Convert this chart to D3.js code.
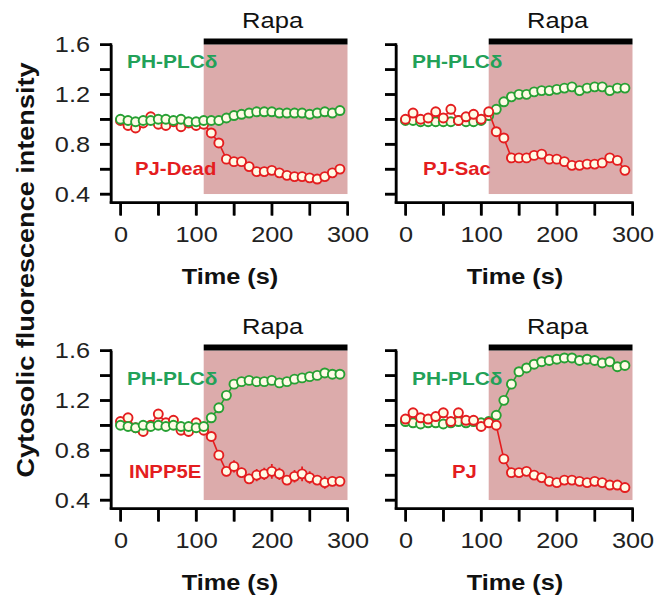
<!DOCTYPE html>
<html>
<head>
<meta charset="utf-8">
<script src="https://cdn.jsdelivr.net/npm/d3@7"></script>
<style>
  body { margin: 0; background: #fff; }
  svg { color: #000; }
  text { font-family: "Liberation Sans", Arial, sans-serif; }
</style>
</head>
<body>
<svg id="chart" width="662" height="601"></svg>
<script>
  //Time points (s)
  const time = [0,10,20,30,40,50,60,70,80,90,100,110,120,130,140,150,160,170,180,190,200,210,220,230,240,250,260,270,280,290];

  //PJ-Dead panel
  const phDead  = [1.00,0.99,0.98,0.99,0.99,1.00,1.00,0.99,1.00,0.98,0.98,0.99,0.99,0.99,1.01,1.03,1.04,1.05,1.06,1.06,1.06,1.05,1.05,1.05,1.05,1.04,1.05,1.06,1.05,1.07];
  const redDead = [0.99,0.95,0.93,0.97,1.02,0.96,0.95,0.98,0.94,0.97,0.95,0.96,0.89,0.81,0.68,0.66,0.66,0.62,0.58,0.58,0.59,0.57,0.55,0.54,0.54,0.53,0.52,0.54,0.57,0.60];
  const errDead = [0.01,0.02,0.01,0.02,0.02,0.01,0.02,0.03,0.02,0.01,0.02,0.03,0.01,0.01,0.01,0.01,0.01,0.01,0.01,0.01,0.01,0.01,0.01,0.01,0.01,0.01,0.01,0.01,0.01,0.01];

  //PJ-Sac panel
  const phSac  = [0.99,0.99,0.98,0.98,0.98,0.98,0.98,0.99,0.98,0.98,0.99,1.03,1.08,1.14,1.18,1.20,1.20,1.22,1.23,1.23,1.24,1.25,1.26,1.23,1.25,1.26,1.26,1.23,1.25,1.25];
  const redSac = [1.00,1.05,1.00,1.01,1.06,1.01,1.08,0.99,1.02,1.04,1.00,1.06,0.90,0.85,0.69,0.69,0.69,0.71,0.72,0.68,0.68,0.66,0.63,0.63,0.64,0.64,0.65,0.69,0.67,0.59];

  //INPP5E panel
  const phInp  = [1.00,0.99,0.98,1.00,0.99,1.00,0.99,1.00,0.99,0.99,0.98,0.99,1.06,1.14,1.24,1.33,1.35,1.36,1.35,1.35,1.36,1.34,1.35,1.37,1.38,1.39,1.40,1.42,1.41,1.41];
  const redInp = [1.03,1.06,0.98,0.95,1.00,1.09,1.02,1.04,0.96,0.95,1.02,0.96,0.91,0.76,0.63,0.67,0.62,0.57,0.60,0.61,0.63,0.61,0.56,0.59,0.61,0.58,0.56,0.54,0.55,0.55];
  const errInp = [0.02,0.02,0.02,0.02,0.02,0.03,0.02,0.02,0.02,0.02,0.02,0.02,0.02,0.03,0.04,0.05,0.04,0.04,0.05,0.05,0.06,0.05,0.04,0.05,0.06,0.05,0.04,0.05,0.04,0.03];

  //PJ panel
  const phPJ   = [1.03,1.02,1.01,1.02,1.02,1.01,1.02,1.03,1.02,1.03,1.02,1.03,1.08,1.20,1.33,1.43,1.46,1.49,1.51,1.52,1.53,1.54,1.54,1.52,1.53,1.52,1.50,1.51,1.47,1.48];
  const errPhPJ= [0.01,0.01,0.01,0.01,0.01,0.01,0.01,0.01,0.01,0.01,0.01,0.01,0.02,0.02,0.03,0.03,0.03,0.03,0.03,0.03,0.03,0.03,0.03,0.03,0.03,0.03,0.03,0.03,0.03,0.03];
  const redPJ  = [1.05,1.10,1.06,1.05,1.07,1.10,1.03,1.10,1.04,1.04,0.99,1.02,1.00,0.73,0.62,0.62,0.63,0.60,0.58,0.55,0.54,0.56,0.56,0.55,0.54,0.55,0.54,0.52,0.52,0.50];

  //Ticks and labels
  const yTicks = [0.4,0.6,0.8,1.0,1.2,1.4,1.6];
  const yTickLabels = ["0.4","","0.8","","1.2","","1.6"];
  const xTicks = [0,50,100,150,200,250,300];
  const xTickLabels = ["0","","100","","200","","300"];
  const rapaWindow = [110, 300];
  const greenLabel = "PH-PLCδ";
  const redLabels = ["PJ-Dead","PJ-Sac","INPP5E","PJ"];

  //Colours
  const green = "#27a033";
  const greenText = "#22a158";
  const red = "#e41d1f";
  const fillCircle = "#fffbe6";
  const shade = "#dcabab";
  const ink = "#111111";

  //Panels (axis corner position and label offsets)
  let panels = [
    {ax:111, ay:202.5, ph:phDead, red:redDead, redErr:errDead, phErr:null, label:redLabels[0], redFirst:true,  yLab:true,  phPos:[16,-134.5], redPos:[24,-27.5]},
    {ax:396, ay:202.5, ph:phSac,  red:redSac,  redErr:null,    phErr:null, label:redLabels[1], redFirst:false, yLab:false, phPos:[16,-134.5], redPos:[27,-27.5]},
    {ax:111, ay:508.5, ph:phInp,  red:redInp,  redErr:errInp,  phErr:null, label:redLabels[2], redFirst:true,  yLab:true,  phPos:[16,-123.5], redPos:[18,-30.5]},
    {ax:396, ay:508.5, ph:phPJ,   red:redPJ,   redErr:null,    phErr:errPhPJ, label:redLabels[3], redFirst:false, yLab:false, phPos:[16,-123.5], redPos:[56,-30.5]}
  ];

  let svg = d3.select("#chart");

  //Stretch text horizontally to match the wide lettering of the original
  function stretch(sel, k) {
    sel.each(function() {
      let w = this.getComputedTextLength();
      if (w > 0) {
        d3.select(this).attr("textLength", w * k).attr("lengthAdjust", "spacingAndGlyphs");
      }
    });
  }

  let scales = [];

  panels.forEach(function(p) {
    let x = d3.scaleLinear().domain([-12.5, 300]).range([p.ax, p.ax + 236.5]);
    let y = d3.scaleLinear().domain([0.332, 1.6]).range([p.ay, p.ay - 158]);
    scales.push({x: x, y: y, p: p});
    let g = svg.append("g");

    //Rapa shading and bar
    g.append("rect")
      .attr("x", x(rapaWindow[0])).attr("y", y(1.6))
      .attr("width", x(rapaWindow[1]) - x(rapaWindow[0]))
      .attr("height", y(0.4) - y(1.6))
      .attr("fill", shade);
    g.append("rect")
      .attr("x", x(rapaWindow[0])).attr("y", y(1.6) - 6)
      .attr("width", x(rapaWindow[1]) - x(rapaWindow[0]))
      .attr("height", 6)
      .attr("fill", "#000");
    let rapa = g.append("text")
      .attr("x", x(201)).attr("y", y(1.6) - 16.5)
      .attr("text-anchor", "middle")
      .attr("font-size", 22)
      .attr("fill", ink)
      .text("Rapa");
    stretch(rapa, 1.16);

    //d3 axes: lines and labels
    let yAxis = d3.axisLeft(y).tickValues(yTicks).tickSize(11).tickSizeOuter(0).tickPadding(10)
      .tickFormat(function(d, i) { return p.yLab ? yTickLabels[i] : ""; });
    let xAxis = d3.axisBottom(x).tickValues(xTicks).tickSize(13).tickSizeOuter(0).tickPadding(11)
      .tickFormat(function(d, i) { return xTickLabels[i]; });

    let ya = g.append("g").attr("transform", "translate(" + p.ax + ",0)").call(yAxis);
    let xa = g.append("g").attr("transform", "translate(0," + p.ay + ")").call(xAxis);

    [ya, xa].forEach(function(a) {
      a.select(".domain").attr("stroke", "#000").attr("stroke-width", 2);
      a.selectAll(".tick line").attr("stroke", "#000").attr("stroke-width", 2);
      a.selectAll(".tick text")
        .attr("font-size", 22)
        .attr("font-family", "'Liberation Sans', Arial, sans-serif")
        .attr("fill", "#222");
      stretch(a.selectAll(".tick text"), 1.15);
    });

    let xt = g.append("text")
      .attr("x", p.ax + 119).attr("y", p.ay + 81)
      .attr("text-anchor", "middle")
      .attr("font-size", 22)
      .attr("font-weight", "bold")
      .attr("fill", ink)
      .text("Time (s)");
    stretch(xt, 1.15);

    //Series
    let line = d3.line().x(function(d, i) { return x(time[i]); }).y(function(d) { return y(d); });

    function drawSeries(vals, errs, col) {
      let s = g.append("g");
      s.append("path")
        .datum(vals)
        .attr("fill", "none")
        .attr("stroke", col)
        .attr("stroke-width", 1.6)
        .attr("d", line);
      if (errs) {
        s.append("path")
          .attr("fill", "none")
          .attr("stroke", col)
          .attr("stroke-width", 1.8)
          .attr("d", vals.map(function(d, i) {
            return "M" + x(time[i]) + "," + y(d - errs[i]) + "L" + x(time[i]) + "," + y(d + errs[i]);
          }).join(""));
      }
      s.selectAll("circle")
        .data(vals)
        .enter()
        .append("circle")
          .attr("cx", function(d, i) { return x(time[i]); })
          .attr("cy", function(d) { return y(d); })
          .attr("r", 4.5)
          .attr("fill", fillCircle)
          .attr("stroke", col)
          .attr("stroke-width", 1.9);
    }

    if (p.redFirst) {
      drawSeries(p.red, p.redErr, red);
      drawSeries(p.ph, p.phErr, green);
    } else {
      drawSeries(p.ph, p.phErr, green);
      drawSeries(p.red, p.redErr, red);
    }

    //Series labels
    let t1 = g.append("text")
      .attr("x", p.ax + p.phPos[0]).attr("y", p.ay + p.phPos[1])
      .attr("font-size", 19).attr("font-weight", "bold")
      .attr("fill", greenText)
      .text(greenLabel);
    let t2 = g.append("text")
      .attr("x", p.ax + p.redPos[0]).attr("y", p.ay + p.redPos[1])
      .attr("font-size", 19).attr("font-weight", "bold")
      .attr("fill", red)
      .text(p.label);
    stretch(t1, 1.1);
    stretch(t2, 1.07);
  });

  //Axis frame and ticks as solid filled rects on top (same shapes as the Rapa bar)
  let axisLayer = svg.append("g");
  scales.forEach(function(s) {
    let p = s.p, x = s.x, y = s.y;
    axisLayer.append("rect")
      .attr("x", p.ax - 1.25).attr("y", y.range()[1] - 1.25)
      .attr("width", 2.5).attr("height", p.ay - y.range()[1] + 2.5)
      .attr("fill", "#000");
    axisLayer.append("rect")
      .attr("x", p.ax - 1.25).attr("y", p.ay - 1.25)
      .attr("width", x.range()[1] - p.ax + 2.5).attr("height", 2.5)
      .attr("fill", "#000");
    yTicks.forEach(function(v) {
      axisLayer.append("rect")
        .attr("x", p.ax - 11).attr("y", y(v) - 1.25)
        .attr("width", 11).attr("height", 2.5)
        .attr("fill", "#000");
    });
    xTicks.forEach(function(v) {
      axisLayer.append("rect")
        .attr("x", x(v) - 1.25).attr("y", p.ay)
        .attr("width", 2.5).attr("height", 13)
        .attr("fill", "#000");
    });
  });

  //Shared y-axis title
  svg.append("text")
    .attr("transform", "translate(34,270) rotate(-90)")
    .attr("text-anchor", "middle")
    .attr("font-size", 24)
    .attr("font-weight", "bold")
    .attr("fill", ink)
    .attr("textLength", 415)
    .attr("lengthAdjust", "spacingAndGlyphs")
    .text("Cytosolic fluorescence intensity");
</script>
</body>
</html>
